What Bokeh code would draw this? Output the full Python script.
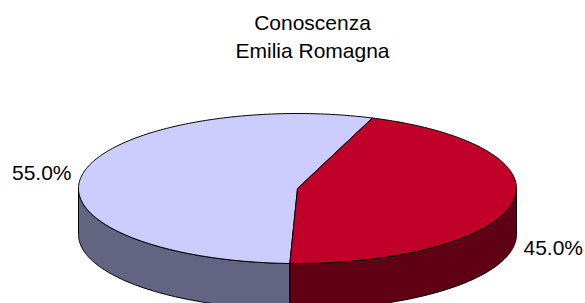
import numpy as np
from bokeh.plotting import figure
from bokeh.models import Range1d
from bokeh.core.properties import value
from bokeh.embed import file_html
from bokeh.resources import INLINE

# ---- data ----
title_lines = ["Conoscenza", "Emilia Romagna"]
slice_names = ["Non conosce", "Conosce"]
shares = [55.0, 45.0]
top_colors = ["#CCCCFF", "#C00028"]
side_colors = ["#636382", "#600014"]

# ---- layout ----
W, H = 585, 303
cx, cy = 297.0, 188.0     # ellipse centre (px, y down)
a, b = 219.0, 75.0        # ellipse radii
depth = 46.0
start_deg = 70.0
FONT = "Liberation Sans"
FS = "21px"

p = figure(width=W, height=H, output_backend="svg", toolbar_location=None,
           x_range=Range1d(0, W), y_range=Range1d(H, 0), min_border=0)
p.axis.visible = False
p.grid.visible = False
p.outline_line_color = None
p.background_fill_color = "white"
p.border_fill_color = "white"


def ell(t, dy=0.0):
    return cx + a * np.cos(t), cy - b * np.sin(t) + dy


total = sum(shares)
bounds = [start_deg]
for v in shares:
    bounds.append(bounds[-1] + 360.0 * v / total)

# side walls (front half: 180..360 degrees)
side_xs, side_ys, side_fill = [], [], []
for i in range(len(shares)):
    t0, t1 = bounds[i], bounds[i + 1]
    for k in range(-1, 3):
        lo, hi = 180 + 360 * k, 360 + 360 * k
        s, e = max(t0, lo), min(t1, hi)
        if e > s:
            tt = np.radians(np.linspace(s, e, 120))
            xt, yt = ell(tt)
            xb, yb = ell(tt[::-1], depth)
            side_xs.append(list(np.concatenate([xt, xb])))
            side_ys.append(list(np.concatenate([yt, yb])))
            side_fill.append(side_colors[i])
p.patches(side_xs, side_ys, fill_color=side_fill, line_color="black", line_width=1)

# top faces
top_xs, top_ys = [], []
for i in range(len(shares)):
    tt = np.radians(np.linspace(bounds[i], bounds[i + 1], 200))
    xt, yt = ell(tt)
    top_xs.append([cx] + list(xt))
    top_ys.append([cy] + list(yt))
p.patches(top_xs, top_ys, fill_color=top_colors, line_color="black", line_width=1)

# data labels
for i, v in enumerate(shares):
    mid = np.radians((bounds[i] + bounds[i + 1]) / 2.0)
    x, y = ell(mid)
    y -= 2
    if np.sin(mid) < 0:
        y += depth + 1
    if np.cos(mid) >= 0:
        x += 11
        align = "left"
    else:
        x -= 11
        align = "right"
    p.text([x], [y], text=[f"{v:.1f}%"], text_align=align, text_baseline="middle",
           text_font=value(FONT), text_font_size=FS, text_color="black")

# title
p.text([312], [22], text=[title_lines[0]], text_align="center", text_baseline="middle",
       text_font=value(FONT), text_font_size=FS, text_color="black")
p.text([312], [50], text=[title_lines[1]], text_align="center", text_baseline="middle",
       text_font=value(FONT), text_font_size=FS, text_color="black")

open("out.html", "w").write(file_html(p, INLINE))
